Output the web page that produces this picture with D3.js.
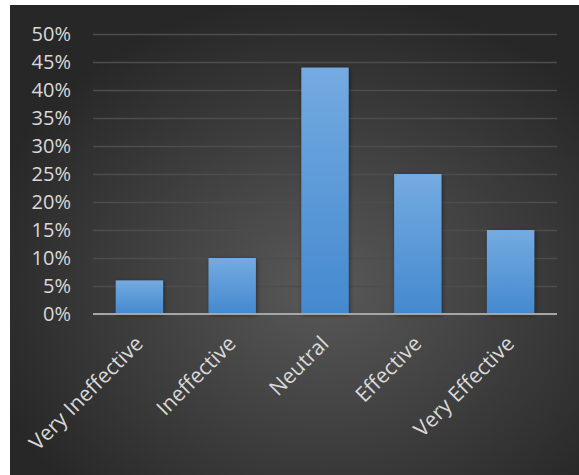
<!DOCTYPE html>
<html lang="en">
<head>
<meta charset="UTF-8">
<title>Effectiveness</title>
<script src="https://d3js.org/d3.v7.min.js"></script>
<style>
  body { margin: 0; background: #fff; }
  text { font-family: "Open Sans", "Noto Sans", sans-serif; fill: #d9d9d9; }
</style>
</head>
<body>
<div id="chart"></div>
<script>
// data
const categories = ["Very Ineffective", "Ineffective", "Neutral", "Effective", "Very Effective"];
const values = [0.06, 0.10, 0.44, 0.25, 0.15];
const yTicks = [0, 0.05, 0.10, 0.15, 0.20, 0.25, 0.30, 0.35, 0.40, 0.45, 0.50];

const W = 579, H = 475;
const margin = { top: 34, right: 22, bottom: 161, left: 93 };
const width = W - margin.left - margin.right;
const height = H - margin.top - margin.bottom;

const svg = d3.select("#chart").append("svg")
  .attr("width", W).attr("height", H);

const defs = svg.append("defs");
const bg = defs.append("radialGradient").attr("id", "bg")
  .attr("cx", "55%").attr("cy", "60%").attr("r", "62%");
bg.append("stop").attr("offset", "0%").attr("stop-color", "#595959");
bg.append("stop").attr("offset", "100%").attr("stop-color", "#272727");

const barGrad = defs.append("linearGradient").attr("id", "bar")
  .attr("x1", 0).attr("y1", 0).attr("x2", 0).attr("y2", 1);
barGrad.append("stop").attr("offset", "0%").attr("stop-color", "#74abe1");
barGrad.append("stop").attr("offset", "100%").attr("stop-color", "#4489cf");

const shadow = defs.append("filter").attr("id", "shadow")
  .attr("x", "-20%").attr("y", "-20%").attr("width", "140%").attr("height", "140%");
shadow.append("feDropShadow").attr("dx", 1).attr("dy", 1).attr("stdDeviation", 2)
  .attr("flood-color", "#000").attr("flood-opacity", 0.45);

svg.append("rect").attr("x", 10).attr("y", 5)
  .attr("width", W - 10).attr("height", H - 5)
  .attr("fill", "url(#bg)");

const g = svg.append("g").attr("transform", `translate(${margin.left},${margin.top})`);

const x = d3.scaleBand().domain(categories).range([0, width]).paddingInner(0.49).paddingOuter(0.245);
const y = d3.scaleLinear().domain([0, 0.5]).range([height, 0]);

// gridlines
g.append("g")
  .call(d3.axisLeft(y).tickValues(yTicks).tickSize(-width).tickFormat(""))
  .call(a => a.select(".domain").remove())
  .call(a => a.selectAll("line").attr("stroke", "#4d4d4d").attr("stroke-width", 1.5));

// y labels
g.append("g")
  .call(d3.axisLeft(y).tickValues(yTicks).tickSize(0).tickPadding(22).tickFormat(d3.format(".0%")))
  .call(a => a.select(".domain").remove())
  .call(a => a.selectAll("text").attr("fill", "#d9d9d9").style("font-size", "20px")
    .style("font-family", "'Open Sans', sans-serif"));

// bars
g.selectAll(".bar")
  .data(values)
  .enter()
  .append("rect")
  .attr("class", "bar")
  .attr("x", (d, i) => x(categories[i]))
  .attr("y", d => y(d))
  .attr("width", x.bandwidth())
  .attr("height", d => height - y(d))
  .attr("fill", "url(#bar)")
  .attr("filter", "url(#shadow)");

// baseline
g.append("line")
  .attr("x1", 0).attr("x2", width)
  .attr("y1", height).attr("y2", height)
  .attr("stroke", "#a6a6a6").attr("stroke-width", 2);

// x labels
g.append("g").selectAll("text")
  .data(categories)
  .enter()
  .append("text")
  .attr("transform", d => `translate(${x(d) + x.bandwidth() / 2 + 5},${height + 31}) rotate(-45)`)
  .attr("text-anchor", "end")
  .style("font-size", "21px")
  .text(d => d);
</script>
</body>
</html>
